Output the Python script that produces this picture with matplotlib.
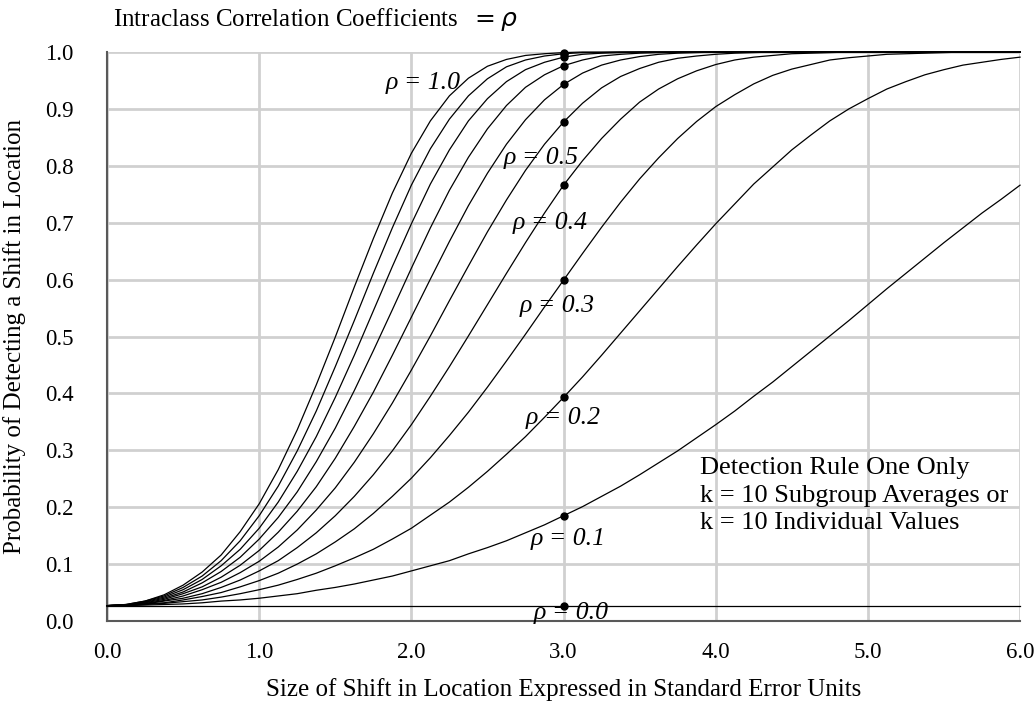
import matplotlib
matplotlib.use("Agg")
import matplotlib.pyplot as plt

# -------------------------
# Daten
# -------------------------

# Verschiebung in Standardfehler-Einheiten, Raster 0.125
shift = [i * 0.125 for i in range(49)]

rho_labels = ["ρ = 0.0", "ρ = 0.1", "ρ = 0.2", "ρ = 0.3", "ρ = 0.4", "ρ = 0.5",
              "ρ = 0.6", "ρ = 0.7", "ρ = 0.8", "ρ = 0.9", "ρ = 1.0"]

p_rho00 = [0.027] * 49
p_rho01 = [0.027, 0.027, 0.028, 0.029, 0.030, 0.032, 0.035, 0.037,
           0.040, 0.044, 0.048, 0.054, 0.059, 0.065, 0.072, 0.079,
           0.088, 0.097, 0.106, 0.118, 0.129, 0.141, 0.155, 0.169,
           0.185, 0.201, 0.219, 0.237, 0.257, 0.278, 0.299, 0.322,
           0.345, 0.369, 0.395, 0.420, 0.447, 0.474, 0.501, 0.528,
           0.556, 0.584, 0.611, 0.638, 0.665, 0.691, 0.717, 0.741,
           0.766]
p_rho02 = [0.027, 0.027, 0.029, 0.031, 0.034, 0.037, 0.042, 0.048,
           0.055, 0.063, 0.073, 0.084, 0.097, 0.111, 0.126, 0.144,
           0.163, 0.186, 0.209, 0.235, 0.263, 0.293, 0.324, 0.358,
           0.393, 0.429, 0.467, 0.506, 0.545, 0.584, 0.623, 0.661,
           0.698, 0.733, 0.768, 0.798, 0.828, 0.854, 0.879, 0.900,
           0.918, 0.935, 0.948, 0.960, 0.969, 0.977, 0.982, 0.987,
           0.991]
p_rho03 = [0.027, 0.028, 0.030, 0.032, 0.037, 0.043, 0.050, 0.060,
           0.071, 0.084, 0.100, 0.118, 0.139, 0.162, 0.189, 0.219,
           0.251, 0.287, 0.326, 0.367, 0.411, 0.457, 0.504, 0.552,
           0.599, 0.646, 0.692, 0.736, 0.777, 0.814, 0.848, 0.878,
           0.904, 0.925, 0.944, 0.959, 0.970, 0.978, 0.986, 0.990,
           0.993, 0.996, 0.997, 0.998, 0.999, 1.000, 1.000, 1.000,
           1.000]
p_rho04 = [0.027, 0.028, 0.030, 0.035, 0.040, 0.048, 0.059, 0.072,
           0.088, 0.106, 0.129, 0.155, 0.185, 0.219, 0.257, 0.299,
           0.345, 0.395, 0.447, 0.501, 0.556, 0.611, 0.665, 0.717,
           0.766, 0.809, 0.848, 0.882, 0.912, 0.935, 0.953, 0.967,
           0.978, 0.986, 0.991, 0.994, 0.997, 0.998, 0.999, 1.000,
           1.000, 1.000, 1.000, 1.000, 1.000, 1.000, 1.000, 1.000,
           1.000]
p_rho05 = [0.027, 0.028, 0.031, 0.036, 0.044, 0.055, 0.068, 0.085,
           0.105, 0.130, 0.160, 0.195, 0.234, 0.279, 0.329, 0.383,
           0.441, 0.501, 0.563, 0.624, 0.684, 0.740, 0.792, 0.838,
           0.877, 0.910, 0.937, 0.957, 0.971, 0.982, 0.989, 0.993,
           0.996, 0.998, 0.999, 1.000, 1.000, 1.000, 1.000, 1.000,
           1.000, 1.000, 1.000, 1.000, 1.000, 1.000, 1.000, 1.000,
           1.000]
p_rho06 = [0.027, 0.028, 0.032, 0.038, 0.048, 0.060, 0.077, 0.098,
           0.124, 0.156, 0.193, 0.236, 0.286, 0.342, 0.402, 0.467,
           0.534, 0.601, 0.667, 0.730, 0.787, 0.838, 0.881, 0.916,
           0.943, 0.963, 0.977, 0.986, 0.992, 0.996, 0.998, 0.999,
           1.000, 1.000, 1.000, 1.000, 1.000, 1.000, 1.000, 1.000,
           1.000, 1.000, 1.000, 1.000, 1.000, 1.000, 1.000, 1.000,
           1.000]
p_rho07 = [0.027, 0.028, 0.033, 0.040, 0.051, 0.067, 0.087, 0.112,
           0.144, 0.182, 0.227, 0.280, 0.339, 0.405, 0.475, 0.547,
           0.620, 0.691, 0.757, 0.815, 0.865, 0.906, 0.938, 0.960,
           0.976, 0.986, 0.993, 0.996, 0.998, 0.999, 1.000, 1.000,
           1.000, 1.000, 1.000, 1.000, 1.000, 1.000, 1.000, 1.000,
           1.000, 1.000, 1.000, 1.000, 1.000, 1.000, 1.000, 1.000,
           1.000]
p_rho08 = [0.027, 0.028, 0.034, 0.042, 0.055, 0.073, 0.097, 0.126,
           0.163, 0.209, 0.263, 0.324, 0.393, 0.467, 0.545, 0.623,
           0.698, 0.768, 0.828, 0.879, 0.918, 0.948, 0.969, 0.982,
           0.991, 0.996, 0.998, 0.999, 1.000, 1.000, 1.000, 1.000,
           1.000, 1.000, 1.000, 1.000, 1.000, 1.000, 1.000, 1.000,
           1.000, 1.000, 1.000, 1.000, 1.000, 1.000, 1.000, 1.000,
           1.000]
p_rho09 = [0.027, 0.029, 0.035, 0.044, 0.059, 0.079, 0.106, 0.141,
           0.185, 0.237, 0.299, 0.369, 0.447, 0.528, 0.611, 0.691,
           0.766, 0.830, 0.882, 0.923, 0.953, 0.974, 0.986, 0.993,
           0.997, 0.999, 0.999, 1.000, 1.000, 1.000, 1.000, 1.000,
           1.000, 1.000, 1.000, 1.000, 1.000, 1.000, 1.000, 1.000,
           1.000, 1.000, 1.000, 1.000, 1.000, 1.000, 1.000, 1.000,
           1.000]
p_rho10 = [0.027, 0.029, 0.035, 0.046, 0.063, 0.086, 0.116, 0.157,
           0.206, 0.266, 0.336, 0.415, 0.499, 0.587, 0.672, 0.752,
           0.822, 0.879, 0.923, 0.954, 0.975, 0.987, 0.994, 0.997,
           0.999, 1.000, 1.000, 1.000, 1.000, 1.000, 1.000, 1.000,
           1.000, 1.000, 1.000, 1.000, 1.000, 1.000, 1.000, 1.000,
           1.000, 1.000, 1.000, 1.000, 1.000, 1.000, 1.000, 1.000,
           1.000]

curves = [p_rho00, p_rho01, p_rho02, p_rho03, p_rho04, p_rho05,
          p_rho06, p_rho07, p_rho08, p_rho09, p_rho10]
assert all(len(c) == len(shift) for c in curves)

# Beschriftungen an den Kurven (Position in Datenkoordinaten)
label_x = [3.05, 3.03, 3.00, 2.96, 2.91, 2.85, None, None, None, None, 2.08]
label_y = [0.014, 0.144, 0.356, 0.554, 0.700, 0.814, None, None, None, None, 0.946]

x_ticks = [0.0, 1.0, 2.0, 3.0, 4.0, 5.0, 6.0]
y_ticks = [0.0, 0.1, 0.2, 0.3, 0.4, 0.5, 0.6, 0.7, 0.8, 0.9, 1.0]

SERIF = ["Liberation Serif", "DejaVu Serif"]
GRID = "#d0d0d0"

# -------------------------
# Plot
# -------------------------

fig = plt.figure(figsize=(10.36, 7.04), dpi=100, facecolor="white")
ax = fig.add_axes([0.1033, 0.1179, 0.8813, 0.8082])

ax.set_xlim(0, 6)
ax.set_ylim(0, 1.0)
ax.set_xticks(x_ticks)
ax.set_yticks(y_ticks)
ax.set_xticklabels([f"{t:.1f}" for t in x_ticks], family=SERIF, fontsize=16.5)
ax.set_yticklabels([f"{t:.1f}" for t in y_ticks], family=SERIF, fontsize=16.5)
ax.tick_params(axis="both", length=0)
ax.tick_params(axis="x", pad=15)
ax.tick_params(axis="y", pad=24)

ax.grid(True, color=GRID, linewidth=2)
ax.set_axisbelow(True)
for side in ["top", "right"]:
    ax.spines[side].set_visible(False)
for side in ["left", "bottom"]:
    ax.spines[side].set_color("#595959")
    ax.spines[side].set_linewidth(1.5)

i3 = shift.index(3.0)
for i, vals in enumerate(curves):
    ax.plot(shift, vals, color="black", linewidth=0.9, clip_on=False, zorder=3)
    ax.plot(3.0, vals[i3], "o", color="black", markersize=5, zorder=4, clip_on=False)
    if label_x[i] is not None:
        ax.text(label_x[i], label_y[i], rho_labels[i], family=SERIF, style="italic",
                fontsize=18.5, ha="center", va="center", zorder=5)

ax.text(3.896, 0.288, "Detection Rule One Only\nk = 10 Subgroup Averages or\nk = 10 Individual Values",
        family=SERIF, fontsize=19, ha="left", va="top", linespacing=1.32, zorder=5)

ax.set_xlabel("Size of Shift in Location Expressed in Standard Error Units",
              family=SERIF, fontsize=18, labelpad=11)
ax.set_ylabel("Probability of Detecting a Shift in Location",
              family=SERIF, fontsize=18, labelpad=14)
fig.text(0.109, 0.973, "Intraclass Correlation Coefficients  $= \\rho$",
         family=SERIF, fontsize=18, ha="left", va="center")

plt.savefig("out.png", dpi=100)
